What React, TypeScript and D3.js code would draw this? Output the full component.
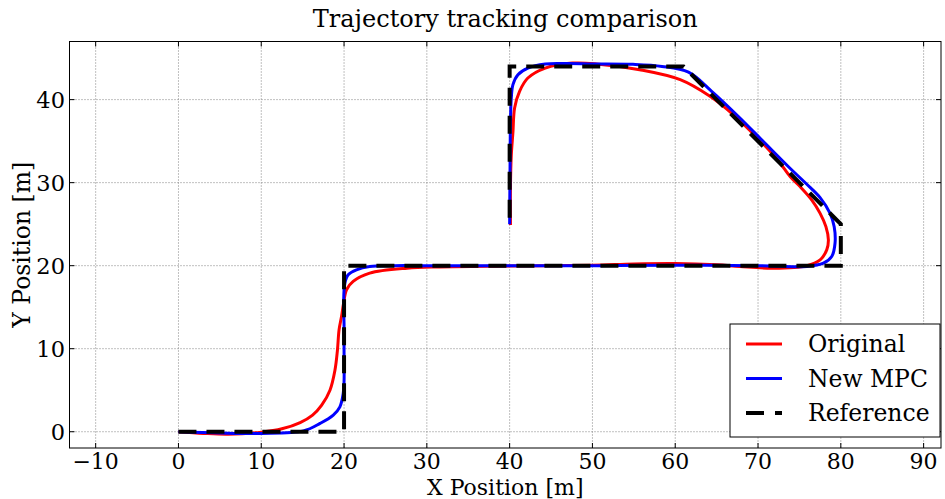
import { useEffect, useRef } from 'react';
import * as d3 from 'd3';

// reference path (waypoints)
const refX = [0, 20, 20, 80, 80, 61, 40, 40];
const refY = [0, 0, 20, 20, 25, 44, 44, 25];

// original controller
const origX = [0, 3, 6, 10, 12.5, 14.7, 16.2, 17.3, 18.3, 18.9, 19.2, 19.4, 19.7, 19.95, 20.3, 21.1, 23.1, 27.6, 31.6, 40, 50, 55, 60, 65, 67.8, 71.8, 75.9, 77.5, 78.3, 78.5, 78.2, 77.5, 76.5, 75.1, 73.9, 72.4, 70.2, 67.0, 64.2, 60.6, 55.7, 50.5, 47.6, 44.3, 42.2, 41.2, 40.6, 40.4, 40.2, 40.1, 40.1];
const origY = [0, -0.2, -0.3, -0.05, 0.35, 1.1, 2.0, 3.2, 5.0, 7.4, 9.8, 12.3, 13.9, 15.5, 17.1, 18.1, 19.1, 19.7, 19.85, 19.95, 20.05, 20.2, 20.25, 20.1, 19.9, 19.7, 20.0, 20.7, 21.9, 23.1, 24.7, 26.3, 27.9, 29.5, 30.7, 32.7, 35.1, 38.2, 40.4, 42.4, 43.6, 44.3, 44.4, 43.8, 42.6, 41.0, 39.0, 36.1, 33.3, 29.4, 24.9];

// new MPC
const mpcX = [0, 5, 10, 15.1, 17.1, 18.7, 19.5, 19.9, 20.0, 20.0, 20.0, 19.95, 20.1, 20.5, 21.5, 23.1, 26, 30, 40, 50, 60, 70, 75.9, 77.9, 78.9, 79.3, 79.2, 78.7, 77.5, 75.8, 73.8, 70.5, 67.6, 64.4, 61.6, 58.4, 54.9, 50, 47, 44.3, 42.2, 41.0, 40.4, 40.2, 40.1, 40.05, 40.0];
const mpcY = [0, -0.15, -0.2, 0.1, 1.0, 2.0, 3.0, 4.6, 6.0, 10, 13, 15.5, 17.9, 18.9, 19.5, 19.9, 20, 20, 20, 20, 20.05, 20, 19.9, 20.3, 21.1, 22.7, 24.7, 26.3, 28.2, 29.9, 31.8, 35.1, 38.0, 41.0, 43.3, 44.0, 44.25, 44.3, 44.35, 44.3, 43.8, 43.0, 41.8, 40.2, 37.3, 32, 25];

const xTicks = [-10, 0, 10, 20, 30, 40, 50, 60, 70, 80, 90];
const yTicks = [0, 10, 20, 30, 40];

const seriesNames = ['Original', 'New MPC', 'Reference'];
const seriesColors = ['#ff0000', '#0000ff', '#000000'];

const FONT = "'DejaVu Serif', serif";

const TrajectoryChart = () => {
  const svgRef = useRef<SVGSVGElement>(null);

  useEffect(() => {
    if (!svgRef.current) return;
    const svg = d3.select(svgRef.current);
    svg.selectAll('*').remove();

    const left = 69.5, right = 941, top = 41.5, bottom = 448;

    const x = d3.scaleLinear().domain([-13.16, 92.1]).range([left, right]);
    const y = d3.scaleLinear().domain([-1.96, 47.0]).range([bottom, top]);

    svg.append('defs').append('clipPath').attr('id', 'plot-clip')
      .append('rect')
      .attr('x', left).attr('y', top)
      .attr('width', right - left).attr('height', bottom - top);

    // grid
    const grid = svg.append('g');
    xTicks.forEach(t => {
      grid.append('line')
        .attr('x1', x(t)).attr('x2', x(t)).attr('y1', top).attr('y2', bottom)
        .attr('stroke', '#808080').attr('stroke-width', 1).attr('stroke-dasharray', '1,2');
    });
    yTicks.forEach(t => {
      grid.append('line')
        .attr('x1', left).attr('x2', right).attr('y1', y(t)).attr('y2', y(t))
        .attr('stroke', '#808080').attr('stroke-width', 1).attr('stroke-dasharray', '1,2');
    });

    // curves
    const line = d3.line<[number, number]>()
      .x(d => x(d[0]))
      .y(d => y(d[1]))
      .curve(d3.curveCatmullRom.alpha(0.5));
    const poly = d3.line<[number, number]>().x(d => x(d[0])).y(d => y(d[1]));

    const plot = svg.append('g').attr('clip-path', 'url(#plot-clip)');
    plot.append('path')
      .attr('d', line(origX.map((v, i) => [v, origY[i]] as [number, number])))
      .attr('fill', 'none').attr('stroke', seriesColors[0]).attr('stroke-width', 3);
    plot.append('path')
      .attr('d', line(mpcX.map((v, i) => [v, mpcY[i]] as [number, number])))
      .attr('fill', 'none').attr('stroke', seriesColors[1]).attr('stroke-width', 3);
    plot.append('path')
      .attr('d', poly(refX.map((v, i) => [v, refY[i]] as [number, number])))
      .attr('fill', 'none').attr('stroke', seriesColors[2]).attr('stroke-width', 4)
      .attr('stroke-dasharray', '18,10');

    // frame
    svg.append('rect')
      .attr('x', left).attr('y', top)
      .attr('width', right - left).attr('height', bottom - top)
      .attr('fill', 'none').attr('stroke', '#000').attr('stroke-width', 1);

    // inward ticks on all sides
    const tl = 5;
    xTicks.forEach(t => {
      svg.append('line').attr('x1', x(t)).attr('x2', x(t)).attr('y1', bottom).attr('y2', bottom - tl).attr('stroke', '#000');
      svg.append('line').attr('x1', x(t)).attr('x2', x(t)).attr('y1', top).attr('y2', top + tl).attr('stroke', '#000');
      svg.append('text')
        .attr('x', x(t)).attr('y', 468.5)
        .attr('text-anchor', 'middle')
        .style('font-family', FONT).style('font-size', '22px')
        .text(t < 0 ? `\u2212${-t}` : `${t}`);
    });
    yTicks.forEach(t => {
      svg.append('line').attr('x1', left).attr('x2', left + tl).attr('y1', y(t)).attr('y2', y(t)).attr('stroke', '#000');
      svg.append('line').attr('x1', right).attr('x2', right - tl).attr('y1', y(t)).attr('y2', y(t)).attr('stroke', '#000');
      svg.append('text')
        .attr('x', 65).attr('y', y(t) + 8)
        .attr('text-anchor', 'end')
        .style('font-family', FONT).style('font-size', '22.5px')
        .text(`${t}`);
    });

    // title & labels
    const cx = (left + right) / 2;
    svg.append('text').attr('x', cx).attr('y', 27).attr('text-anchor', 'middle')
      .style('font-family', FONT).style('font-size', '24px')
      .text('Trajectory tracking comparison');
    svg.append('text').attr('x', cx).attr('y', 494.5).attr('text-anchor', 'middle')
      .style('font-family', FONT).style('font-size', '22px')
      .text('X Position [m]');
    svg.append('text')
      .attr('transform', `translate(30,${(top + bottom) / 2}) rotate(-90)`)
      .attr('text-anchor', 'middle')
      .style('font-family', FONT).style('font-size', '23.5px')
      .text('Y Position [m]');

    // legend
    const legend = svg.append('g');
    legend.append('rect')
      .attr('x', 730).attr('y', 324).attr('width', 210).attr('height', 113)
      .attr('fill', '#fff').attr('stroke', '#000').attr('stroke-width', 1);
    seriesNames.forEach((name, i) => {
      const ly = 344 + i * 34.5;
      legend.append('line')
        .attr('x1', 746).attr('x2', 782).attr('y1', ly).attr('y2', ly)
        .attr('stroke', seriesColors[i])
        .attr('stroke-width', i === 2 ? 4 : 3)
        .attr('stroke-dasharray', i === 2 ? '18,11' : null);
      legend.append('text')
        .attr('x', 808).attr('y', ly + 8)
        .style('font-family', FONT).style('font-size', '23.5px')
        .text(name);
    });
  }, []);

  return <svg ref={svgRef} width={945} height={499} style={{ position: 'absolute', left: 0, top: 0, background: '#fff' }} />;
};

export default function App() {
  return <TrajectoryChart />;
}
